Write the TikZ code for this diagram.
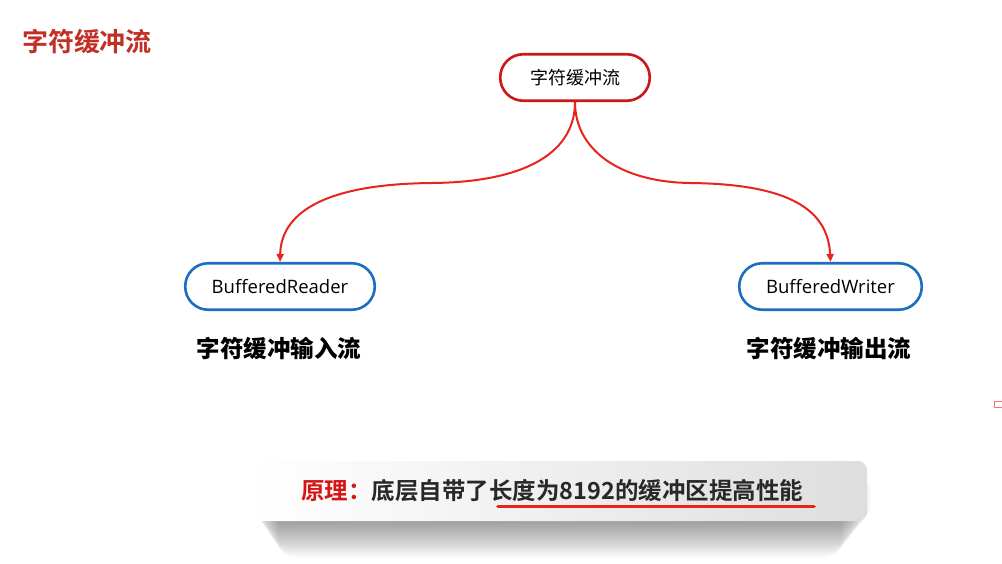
\documentclass[tikz,border=0pt]{standalone}
\usepackage{fontspec}
\setmainfont{Open Sans}
\newfontfamily\cjk{Noto Sans CJK SC}
\newfontfamily\cjkbold{Noto Sans CJK SC Bold}
\newfontfamily\cjkblack{Noto Sans CJK SC Black}
\usetikzlibrary{arrows.meta}
\definecolor{titlered}{RGB}{192,48,38}
\definecolor{boxred}{RGB}{204,24,24}
\definecolor{curvered}{RGB}{232,36,28}
\definecolor{boxblue}{RGB}{30,110,192}
\definecolor{textred}{RGB}{214,20,20}
\definecolor{darktext}{RGB}{40,40,40}
\tikzset{
  stadium/.style={draw, line width=2.6pt, rectangle, rounded corners=23pt, inner sep=0pt, minimum height=46.5pt, fill=white},
  redbox/.style={stadium, draw=boxred, minimum width=149.5pt},
  bluebox/.style={stadium, draw=boxblue},
  link/.style={draw=curvered, line width=2pt, -{Triangle[length=8pt,width=7pt]}},
  caption/.style={font=\cjkblack\fontsize{23.5}{23.5}\selectfont, inner sep=0pt}
}
\begin{document}
\begin{tikzpicture}[x=1pt,y=-1pt]
\useasboundingbox (0,0) rectangle (1002,563);
\fill[white] (0,0) rectangle (1002,563);
% title
\node[font=\cjkbold\fontsize{26}{26}\selectfont, text=titlered, inner sep=0pt] (title) at (87,42) {字符缓冲流};
% nodes
\node[redbox, font=\cjk\fontsize{18}{18}\selectfont] (top) at (575,77.5) {字符缓冲流};
\node[bluebox, minimum width=189.5pt, font=\fontsize{18.5}{18.5}\selectfont] (reader) at (280,286.5) {BufferedReader};
\node[bluebox, minimum width=182.5pt, font=\fontsize{18.5}{18.5}\selectfont] (writer) at (830.5,286.5) {BufferedWriter};
% captions
\node[caption] (incap) at (279,348) {字符缓冲输入流};
\node[caption] (outcap) at (829,348) {字符缓冲输出流};
% connectors
\draw[link] (top.south) .. controls (575,150) and (530,182) .. (432,183)
  .. controls (320,184) and (281,215) .. (reader.north);
\draw[link] (top.south) .. controls (575,150) and (620,182) .. (690,183)
  .. controls (790,184) and (828,210) .. (writer.north);
% bottom box shadow
\foreach \i in {1,...,22}{
  \fill[black, opacity=0.018, rounded corners=16pt]
    (252+\i*1.2,475) rectangle (872-\i*1.4,519+\i*1.75);
}
\shade[rounded corners=9pt, left color=white, right color=black!13] (250,461) rectangle (867,521);
\node[anchor=west, inner sep=0pt, font=\cjkbold\fontsize{23.5}{23.5}\selectfont] (principle) at (301,491)
  {\textcolor{textred}{原理：}\textcolor{darktext}{底层自带了长度为8192的缓冲区提高性能}};
\coordinate (ulA) at (498,506.5);
\coordinate (ulB) at (814,506.5);
\draw[curvered, line width=3.6pt, line cap=round] (ulA) -- (ulB);
% small edge fragment
\draw[red!55, line width=1pt] (994,401.5) rectangle (1004,407);
\end{tikzpicture}
\end{document}
